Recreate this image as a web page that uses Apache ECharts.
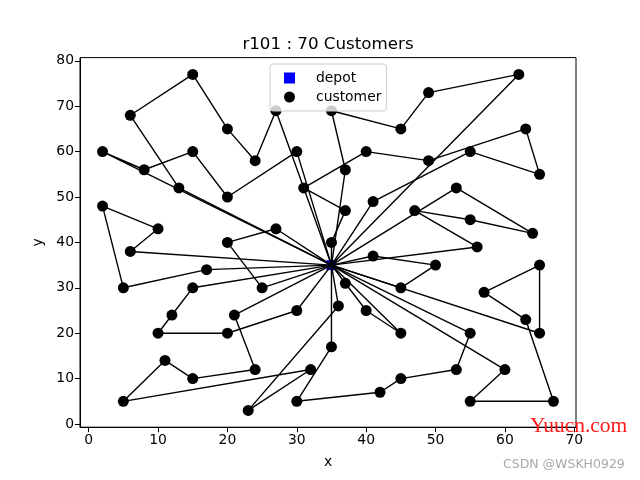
<!DOCTYPE html>
<html>
<head>
<meta charset="utf-8">
<script src="https://cdn.jsdelivr.net/npm/echarts@6.0.0/dist/echarts.min.js"></script>
<style>html,body{margin:0;padding:0;background:#fff}#main{width:640px;height:480px}</style>
</head>
<body>
<div id="main"></div>
<script>
// node 0 is the depot, nodes 1..70 are customers (Solomon r101)
const nodeX = [35,41,35,55,55,15,25,20,10,55,30,20,50,30,15,30,10,5,20,15,45,45,45,55,65,65,45,35,41,64,40,31,35,53,65,63,2,20,5,60,40,42,24,23,11,6,2,8,13,6,47,49,27,37,57,63,53,32,36,21,17,12,24,27,15,62,49,67,56,37,37];
const nodeY = [35,49,17,45,20,30,30,50,43,60,60,65,35,25,10,5,20,30,40,60,65,20,10,5,35,20,30,40,37,42,60,52,69,52,55,65,60,20,5,12,25,7,12,3,14,38,48,56,52,68,47,58,43,31,29,23,12,12,26,24,34,24,58,69,77,77,73,5,39,47,56];

// vehicle routes as node index lists
const route1 = [0,36,47,19,7,10,0];
const route2 = [0,48,49,64,11,62,63,0];
const route3 = [0,60,17,46,8,45,0];
const route4 = [0,5,61,16,37,13,0];
const route5 = [0,6,18,52,0];
const route6 = [0,59,42,14,44,38,57,43,58,0];
const route7 = [0,4,56,22,41,15,2,0];
const route8 = [0,53,40,21,0];
const route9 = [0,25,24,54,55,67,23,39,0];
const route10 = [0,28,12,26,0];
const route11 = [0,68,50,3,29,33,0];
const route12 = [0,27,69,31,30,51,35,34,9,1,0];
const route13 = [0,70,32,20,66,65,0];
const routes = [route1,route2,route3,route4,route5,route6,route7,route8,route9,route10,route11,route12,route13];

const xTicks = [0,10,20,30,40,50,60,70];
const yTicks = [0,10,20,30,40,50,60,70,80];

const FONT = 'DejaVu Sans';
const chart = echarts.init(document.getElementById('main'), null, {renderer: 'canvas'});

const customers = [];
for (let i = 1; i < nodeX.length; i++) customers.push([nodeX[i], nodeY[i]]);

const series = [
  {name: 'depot', type: 'scatter', data: [[nodeX[0], nodeY[0]]], symbol: 'rect', symbolSize: 10,
   itemStyle: {color: '#0000ff', opacity: 1}, z: 2, silent: true},
  {name: 'customer', type: 'scatter', data: customers, symbol: 'circle', symbolSize: 11,
   itemStyle: {color: '#000000', opacity: 1}, z: 2, silent: true}
];
routes.forEach((r, k) => {
  series.push({
    name: 'route' + (k + 1), type: 'line', data: r.map(i => [nodeX[i], nodeY[i]]),
    symbol: 'none', showSymbol: false, silent: true, z: 3,
    lineStyle: {color: '#000000', width: 1.4}
  });
});

chart.setOption({
  animation: false,
  backgroundColor: '#ffffff',
  title: {
    text: 'r101 : 70 Customers', left: 323, top: 31, textAlign: 'center',
    textStyle: {fontFamily: FONT, fontSize: 16.7, fontWeight: 'normal', color: '#000'}
  },
  legend: {
    data: [{name: 'depot', icon: 'rect'}, {name: 'customer', icon: 'circle'}],
    orient: 'vertical', left: 270, top: 64, itemWidth: 11, itemHeight: 11, itemGap: 5,
    padding: [7, 5, 7, 14],
    backgroundColor: 'rgba(255,255,255,0.8)', borderColor: '#cccccc', borderWidth: 1, borderRadius: 3,
    textStyle: {fontFamily: FONT, fontSize: 13.9, color: '#000', padding: [0, 0, 0, 16]},
    z: 10
  },
  grid: {left: 80, right: 64, top: 57.6, bottom: 52.8, show: true, borderColor: '#000', borderWidth: 1},
  xAxis: {
    type: 'value', min: -1.25, max: 70.25,
    name: 'x', nameLocation: 'middle', nameGap: 28,
    nameTextStyle: {fontFamily: FONT, fontSize: 13.9, color: '#000'},
    axisLine: {show: true, onZero: false, lineStyle: {color: '#000', width: 1}},
    axisTick: {show: true, length: 5, customValues: xTicks, lineStyle: {color: '#000'}},
    axisLabel: {customValues: xTicks, fontFamily: FONT, fontSize: 13.9, color: '#000', margin: 6},
    splitLine: {show: false}
  },
  yAxis: {
    type: 'value', min: -0.7, max: 80.7,
    name: 'y', nameLocation: 'middle', nameGap: 33,
    nameTextStyle: {fontFamily: FONT, fontSize: 13.9, color: '#000'},
    axisLine: {show: true, onZero: false, lineStyle: {color: '#000', width: 1}},
    axisTick: {show: true, length: 5, customValues: yTicks, lineStyle: {color: '#000'}},
    axisLabel: {customValues: yTicks, fontFamily: FONT, fontSize: 13.9, color: '#000', margin: 6},
    splitLine: {show: false}
  },
  graphic: [
    {type: 'text', left: 530, top: 415, z: 100,
     style: {text: 'Yuucn.com', font: '21.5px "Liberation Serif"', fill: '#ff1a1a'}},
    {type: 'text', left: 503, top: 458, z: 100,
     style: {text: 'CSDN @WSKH0929', font: '12.5px "DejaVu Sans"', fill: '#a8a8a8'}}
  ],
  series: series
});
</script>
</body>
</html>
